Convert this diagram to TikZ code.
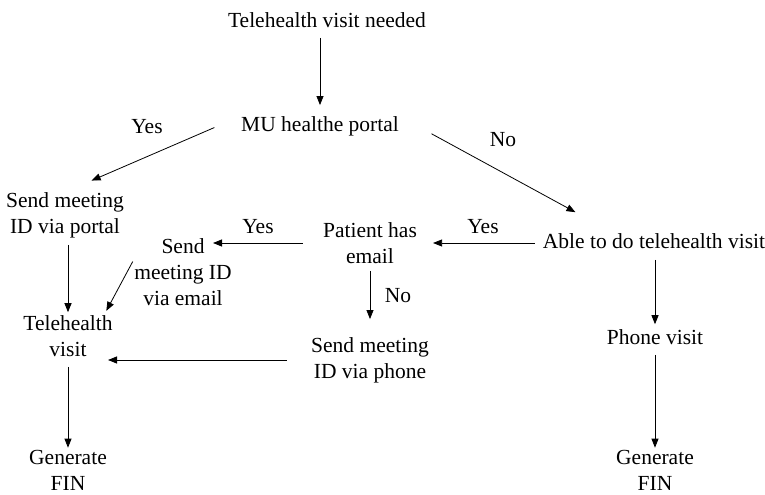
\documentclass[tikz,border=0pt]{standalone}
\usepackage{fontspec}
\setmainfont{Liberation Serif}
\usetikzlibrary{arrows.meta,calc}

\begin{document}
\begin{tikzpicture}[x=1bp,y=-1bp,
    every node/.style={font=\fontsize{21.5bp}{26bp}\selectfont, align=center, inner sep=0pt},
    flow/.style={-{Triangle[length=9bp,width=7bp]}, line width=0.8bp}]
    \useasboundingbox (0,0) rectangle (765,495);
    \node (need) at (327,20) {Telehealth visit needed};
    \node (portal) at (320,126) {MU healthe portal};
    \node (viaportal) at (65,215) {Send meeting\\ID via portal};
    \node (able) at (654,241) {Able to do telehealth visit};
    \node (patient) at (370,243) {Patient has\\email};
    \node (viaemail) at (183,272) {Send\\meeting ID\\via email};
    \node (televisit) at (68,336) {Telehealth\\visit};
    \node (viaphone) at (370,360) {Send meeting\\ID via phone};
    \node (phone) at (655,337) {Phone visit};
    \node (finL) at (68,470) {Generate\\FIN};
    \node (finR) at (655,470) {Generate\\FIN};
    \node (yesportal) at (147,127) {Yes};
    \node (noportal) at (503,140) {No};
    \node (yesable) at (483,227) {Yes};
    \node (yesemail) at (258,227) {Yes};
    \node (noemail) at (398,296) {No};
    \draw[flow, shorten <=10bp, shorten >=11bp] (portal.north |- need.south) -- (portal.north);
    \draw[flow, shorten <=29bp, shorten >=29bp] (portal.north west) -- (viaportal.north);
    \draw[flow, shorten <=37bp, shorten >=44bp] (portal.north east) -- (able.169);
    \draw[flow, shorten <=8bp, shorten >=16bp] (able.west |- patient.east) -- (patient.east);
    \draw[flow, shorten <=20bp, shorten >=30bp] (patient.west) -- (patient.west -| viaemail.north);
    \draw[flow, shorten <=3bp, shorten >=5bp] (viaemail.165) -- (televisit.30);
    \draw[flow, shorten <=7bp, shorten >=3bp] (televisit.north |- viaportal.south) -- (televisit.north);
    \draw[flow, shorten <=7bp, shorten >=18bp] (patient.south) -- (viaphone.north);
    \draw[flow, shorten <=24bp, shorten >=40bp] (viaphone.west) -- (viaphone.west -| televisit.center);
    \draw[flow, shorten <=10bp, shorten >=2bp] (televisit.south) -- (finL.north);
    \draw[flow, shorten <=11bp, shorten >=5bp] (able.south -| phone.north) -- (phone.north);
    \draw[flow, shorten <=10bp, shorten >=2bp] (phone.south) -- (finR.north);
\end{tikzpicture}
\end{document}
